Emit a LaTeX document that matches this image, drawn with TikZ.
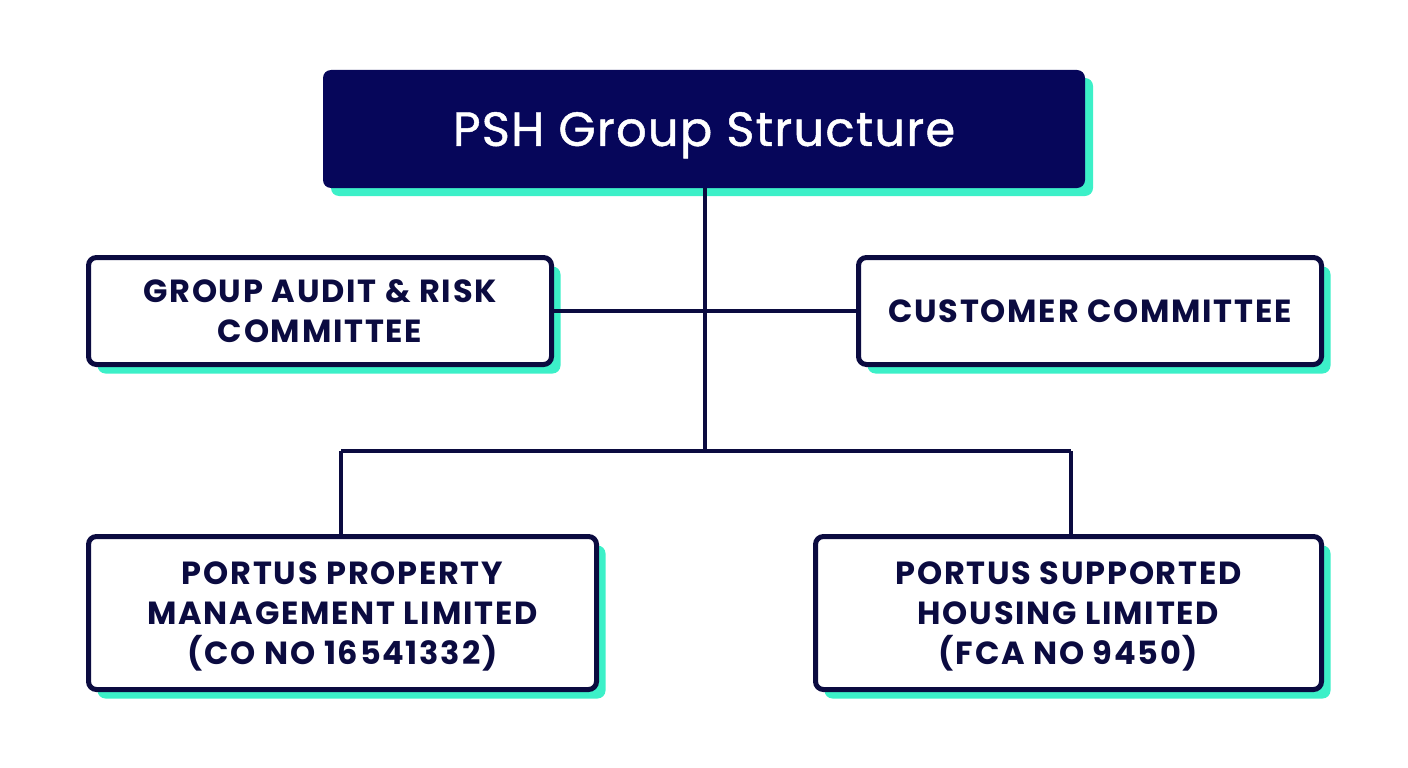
\documentclass[tikz,border=0pt]{standalone}
\usepackage{fontspec}
\setmainfont{Poppins}
\newfontfamily\boxfont[LetterSpace=5.5]{Poppins}
\newfontfamily\headfont[LetterSpace=2.5,FakeBold=1]{Poppins}
\usetikzlibrary{shadows}
\definecolor{navy}{HTML}{06065A}
\definecolor{ink}{HTML}{0B0B40}
\definecolor{mint}{HTML}{3CF0C8}
\tikzset{
  orgbox/.style={draw=ink, line width=5pt, fill=white, rounded corners=8pt,
    align=center, font=\boxfont\bfseries\fontsize{32}{40}\selectfont, text=ink,
    general shadow={fill=mint, shadow xshift=9pt, shadow yshift=-9pt}},
  titlebox/.style={fill=navy, rounded corners=8pt, align=center,
    font=\headfont\fontsize{48}{50}\selectfont, text=white, text depth=0pt,
    general shadow={fill=mint, shadow xshift=8pt, shadow yshift=-8pt}},
  link/.style={draw=ink, line width=4pt}
}
\begin{document}
\begin{tikzpicture}[x=1pt,y=-1pt]
\useasboundingbox (0,0) rectangle (1408,768);
\node[titlebox, minimum width=762pt, minimum height=118pt] (title) at (704,129) {PSH Group Structure};
\node[orgbox, minimum width=463pt, minimum height=107pt] (audit) at (320,311) {GROUP AUDIT \& RISK\\COMMITTEE};
\node[orgbox, minimum width=463pt, minimum height=107pt] (cust) at (1090,311) {CUSTOMER COMMITTEE};
\node[orgbox, text depth=0pt, minimum width=508pt, minimum height=153pt] (ppm) at (342.5,613) {PORTUS PROPERTY\\MANAGEMENT LIMITED\\(CO NO 16541332)};
\node[orgbox, text depth=0pt, minimum width=506pt, minimum height=153pt] (psh) at (1068.5,613) {PORTUS SUPPORTED\\HOUSING LIMITED\\(FCA NO 9450)};
\coordinate (hub) at (705,451);
\coordinate (lj) at (341,451);
\coordinate (rj) at (1071,451);
\draw[link] (title.south -| hub) -- (hub);
\draw[link] (audit.east) -- (cust.west);
\draw[link] (lj) -- (rj);
\draw[link] (lj) -- (lj |- ppm.north);
\draw[link] (rj) -- (rj |- psh.north);
\end{tikzpicture}
\end{document}
